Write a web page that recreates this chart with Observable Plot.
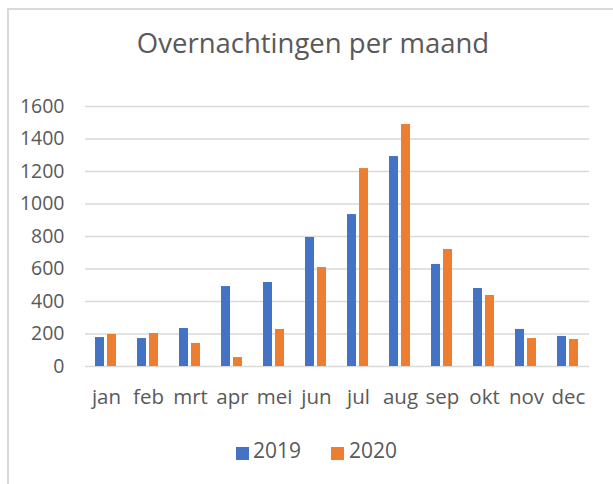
<!DOCTYPE html>
<html>
<head>
<meta charset="utf-8">
<script src="https://cdn.jsdelivr.net/npm/d3@7"></script>
<script src="https://cdn.jsdelivr.net/npm/@observablehq/plot@0.6"></script>
<style>
  html, body { margin: 0; padding: 0; background: #fff; overflow: hidden; }
  #wrap { position: relative; width: 613px; height: 484px; overflow: hidden; font-family: "Open Sans", sans-serif; color: #595959; }
  #border { position: absolute; left: 7px; top: 8px; width: 800px; height: 800px; border-left: 2px solid #d9d9d9; border-top: 2px solid #d9d9d9; }
  #title { position: absolute; left: 0; width: 626px; top: 29px; text-align: center; font-size: 27.5px; line-height: 27.5px; }
  #chart { position: absolute; left: 0; top: 0; }
  .lg-sw { position: absolute; width: 13px; height: 13px; top: 447px; }
  .lg-tx { position: absolute; top: 440px; font-size: 21px; line-height: 21px; }
</style>
</head>
<body>
<div id="wrap">
  <div id="border"></div>
  <div id="chart"></div>
  <div id="title">Overnachtingen per maand</div>
  <div id="legend"></div>
</div>
<script>
const months = ["jan","feb","mrt","apr","mei","jun","jul","aug","sep","okt","nov","dec"];
const years = ["2019","2020"];
const values2019 = [178, 172, 234, 492, 517, 794, 935, 1292, 628, 480, 228, 185];
const values2020 = [197, 203, 142, 55, 228, 609, 1218, 1489, 720, 437, 172, 166];
const yTicks = [0, 200, 400, 600, 800, 1000, 1200, 1400, 1600];
const colors = ["#4472C4", "#ED7D31"];

const data = [];
months.forEach((m, i) => {
  data.push({month: m, year: years[0], value: values2019[i]});
  data.push({month: m, year: years[1], value: values2020[i]});
});

const chart = Plot.plot({
  width: 613,
  height: 420,
  marginTop: 106,
  marginBottom: 54,
  marginLeft: 83,
  marginRight: 23,
  style: {fontFamily: "Open Sans, sans-serif", color: "#595959", background: "transparent"},
  fx: {domain: months, padding: 0, label: null, axis: null},
  x: {domain: years, paddingInner: 0.21, paddingOuter: 0.77, axis: null},
  y: {domain: [0, 1600], axis: null},
  color: {domain: years, range: colors},
  marks: [
    Plot.ruleY(yTicks, {stroke: "#d9d9d9", strokeWidth: 1.5}),
    Plot.barY(data, {fx: "month", x: "year", y: "value", fill: "year"}),
    Plot.axisY({ticks: yTicks, tickSize: 0, tickPadding: 21, tickFormat: d => String(d), fontSize: 19.5, fill: "#595959", label: null}),
    Plot.axisFx({anchor: "bottom", tickSize: 0, tickPadding: 23, fontSize: 20.5, fill: "#595959", label: null})
  ]
});
document.getElementById("chart").appendChild(chart);

const legend = document.getElementById("legend");
const lgPos = [{sw: 236, tx: 253}, {sw: 331, tx: 349}];
years.forEach((y, i) => {
  const sw = document.createElement("div");
  sw.className = "lg-sw";
  sw.style.left = lgPos[i].sw + "px";
  sw.style.background = colors[i];
  legend.appendChild(sw);
  const tx = document.createElement("div");
  tx.className = "lg-tx";
  tx.style.left = lgPos[i].tx + "px";
  tx.textContent = y;
  legend.appendChild(tx);
});
</script>
</body>
</html>
